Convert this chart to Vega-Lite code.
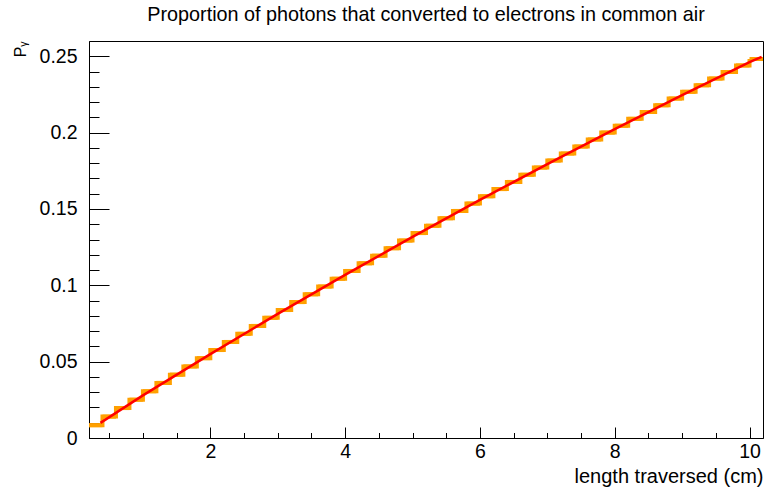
{
  "$schema": "https://vega.github.io/schema/vega-lite/v6.json",
  "width": 674,
  "height": 397,
  "autosize": {"type": "none"},
  "padding": {"left": 89, "top": 41, "right": 5, "bottom": 53},
  "background": "white",
  "config": {
    "font": "Liberation Sans",
    "view": {"stroke": "black", "strokeWidth": 1},
    "axis": {
      "domainColor": "black",
      "domainWidth": 1,
      "tickColor": "black",
      "tickWidth": 1,
      "labelColor": "black",
      "labelFont": "Liberation Sans",
      "labelFontSize": 19.5,
      "titleColor": "black",
      "titleFont": "Liberation Sans",
      "titleFontWeight": "normal",
      "grid": false
    }
  },
  "title": {
    "text": "Proportion of photons that converted to electrons in common air",
    "font": "Liberation Sans",
    "fontSize": 19.8,
    "fontWeight": "normal",
    "color": "black",
    "anchor": "middle",
    "frame": "group",
    "baseline": "alphabetic",
    "offset": 0
  },
  "datasets": {
    "hist": [
      {"x": 0.2, "hi": 0.4, "p": 0.0084},
      {"x": 0.4, "hi": 0.6, "p": 0.0140},
      {"x": 0.6, "hi": 0.8, "p": 0.0196},
      {"x": 0.8, "hi": 1.0, "p": 0.0251},
      {"x": 1.0, "hi": 1.2, "p": 0.0306},
      {"x": 1.2, "hi": 1.4, "p": 0.0361},
      {"x": 1.4, "hi": 1.6, "p": 0.0415},
      {"x": 1.6, "hi": 1.8, "p": 0.0469},
      {"x": 1.8, "hi": 2.0, "p": 0.0523},
      {"x": 2.0, "hi": 2.2, "p": 0.0576},
      {"x": 2.2, "hi": 2.4, "p": 0.0629},
      {"x": 2.4, "hi": 2.6, "p": 0.0682},
      {"x": 2.6, "hi": 2.8, "p": 0.0734},
      {"x": 2.8, "hi": 3.0, "p": 0.0787},
      {"x": 3.0, "hi": 3.2, "p": 0.0838},
      {"x": 3.2, "hi": 3.4, "p": 0.0890},
      {"x": 3.4, "hi": 3.6, "p": 0.0941},
      {"x": 3.6, "hi": 3.8, "p": 0.0992},
      {"x": 3.8, "hi": 4.0, "p": 0.1043},
      {"x": 4.0, "hi": 4.2, "p": 0.1094},
      {"x": 4.2, "hi": 4.4, "p": 0.1144},
      {"x": 4.4, "hi": 4.6, "p": 0.1194},
      {"x": 4.6, "hi": 4.8, "p": 0.1243},
      {"x": 4.8, "hi": 5.0, "p": 0.1293},
      {"x": 5.0, "hi": 5.2, "p": 0.1342},
      {"x": 5.2, "hi": 5.4, "p": 0.1390},
      {"x": 5.4, "hi": 5.6, "p": 0.1439},
      {"x": 5.6, "hi": 5.8, "p": 0.1487},
      {"x": 5.8, "hi": 6.0, "p": 0.1535},
      {"x": 6.0, "hi": 6.2, "p": 0.1583},
      {"x": 6.2, "hi": 6.4, "p": 0.1630},
      {"x": 6.4, "hi": 6.6, "p": 0.1677},
      {"x": 6.6, "hi": 6.8, "p": 0.1724},
      {"x": 6.8, "hi": 7.0, "p": 0.1771},
      {"x": 7.0, "hi": 7.2, "p": 0.1817},
      {"x": 7.2, "hi": 7.4, "p": 0.1863},
      {"x": 7.4, "hi": 7.6, "p": 0.1909},
      {"x": 7.6, "hi": 7.8, "p": 0.1955},
      {"x": 7.8, "hi": 8.0, "p": 0.2000},
      {"x": 8.0, "hi": 8.2, "p": 0.2045},
      {"x": 8.2, "hi": 8.4, "p": 0.2090},
      {"x": 8.4, "hi": 8.6, "p": 0.2135},
      {"x": 8.6, "hi": 8.8, "p": 0.2179},
      {"x": 8.8, "hi": 9.0, "p": 0.2223},
      {"x": 9.0, "hi": 9.2, "p": 0.2267},
      {"x": 9.2, "hi": 9.4, "p": 0.2310},
      {"x": 9.4, "hi": 9.6, "p": 0.2354},
      {"x": 9.6, "hi": 9.8, "p": 0.2397},
      {"x": 9.8, "hi": 10.0, "p": 0.2440},
      {"x": 10.0, "hi": 10.2, "p": 0.2482}
    ],
    "fit": [
      {"x": 0.37, "p": 0.0099},
      {"x": 1, "p": 0.0279},
      {"x": 2, "p": 0.0549},
      {"x": 3, "p": 0.0813},
      {"x": 4, "p": 0.1068},
      {"x": 5, "p": 0.1317},
      {"x": 6, "p": 0.1559},
      {"x": 7, "p": 0.1794},
      {"x": 8, "p": 0.2023},
      {"x": 9, "p": 0.2245},
      {"x": 10, "p": 0.2461},
      {"x": 10.18, "p": 0.2496}
    ]
  },
  "encoding": {
    "x": {
      "field": "x",
      "type": "quantitative",
      "scale": {"domain": [0.2, 10.2], "nice": false, "zero": false},
      "axis": {
        "title": "length traversed (cm)",
        "titleFontSize": 20,
        "titleAnchor": "end",
        "titleAlign": "right",
        "titlePadding": 0,
        "values": [0.5, 1, 1.5, 2, 2.5, 3, 3.5, 4, 4.5, 5, 5.5, 6, 6.5, 7, 7.5, 8, 8.5, 9, 9.5, 10],
        "tickCount": 100,
        "labelExpr": "datum.value % 2 === 0 ? format(datum.value, 'd') : ''",
        "tickSize": {"condition": {"test": "datum.value % 2 === 0", "value": -11}, "value": -5.5},
        "labelPadding": 15,
        "labelFlush": false,
        "labelOverlap": false
      }
    },
    "y": {
      "field": "p",
      "type": "quantitative",
      "scale": {"domain": [0, 0.26], "nice": false, "zero": false},
      "axis": {
        "title": "Pᵧ",
        "titleFontSize": 16,
        "titleAnchor": "end",
        "titlePadding": 11,
        "values": [0, 0.01, 0.02, 0.03, 0.04, 0.05, 0.06, 0.07, 0.08, 0.09, 0.1, 0.11, 0.12, 0.13, 0.14, 0.15, 0.16, 0.17, 0.18, 0.19, 0.2, 0.21, 0.22, 0.23, 0.24, 0.25],
        "tickCount": 100,
        "labelExpr": "abs(datum.value * 20 - round(datum.value * 20)) < 1e-6 ? format(datum.value, '~g') : ''",
        "tickSize": {"condition": {"test": "abs(datum.value * 20 - round(datum.value * 20)) < 1e-6", "value": -20}, "value": -10},
        "labelPadding": 32,
        "labelFlush": false,
        "labelOverlap": false
      }
    }
  },
  "layer": [
    {
      "data": {"name": "hist"},
      "mark": {"type": "line", "interpolate": "step-after", "color": "#ffa000", "strokeWidth": 4, "clip": true}
    },
    {
      "data": {"name": "hist"},
      "mark": {"type": "rule", "color": "#ffa000", "strokeWidth": 4},
      "encoding": {
        "x2": {"field": "hi"}
      }
    },
    {
      "data": {"name": "fit"},
      "mark": {"type": "line", "color": "#ff0000", "strokeWidth": 2.5, "clip": true}
    }
  ]
}
